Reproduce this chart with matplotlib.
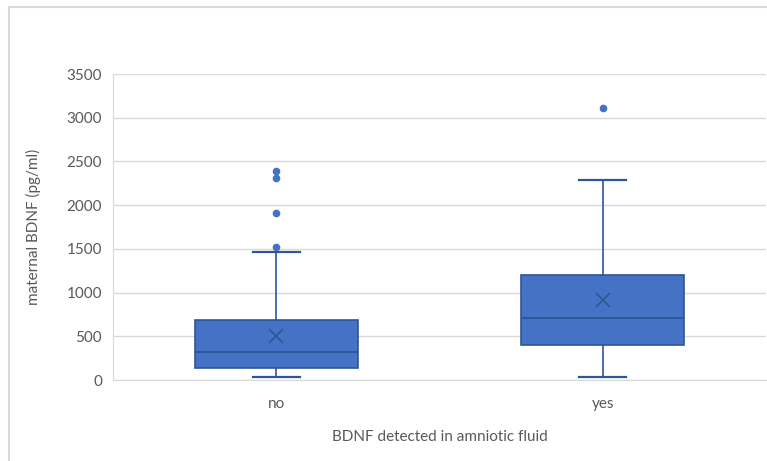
import matplotlib.pyplot as plt
from matplotlib.patches import Rectangle

# box statistics (pg/ml)
groups = ["no", "yes"]
q1 = [137, 400]
medians = [320, 710]
q3 = [686, 1200]
whisker_low = [30, 30]
whisker_high = [1465, 2290]
means = [503, 915]
outliers = [[1520, 1910, 2310, 2390], [3110]]

fill = "#4472C4"
edge = "#2F5597"
grey = "#595959"

plt.rcParams['font.family'] = ['Lato', 'DejaVu Sans']

fig = plt.figure(figsize=(7.67, 4.61), dpi=100)
ax = fig.add_axes([113 / 767, 1 - 380 / 461, 653 / 767, 306 / 461])

stats = []
for i, g in enumerate(groups):
    stats.append({"label": g, "q1": q1[i], "med": medians[i], "q3": q3[i],
                  "whislo": whisker_low[i], "whishi": whisker_high[i],
                  "mean": means[i], "fliers": outliers[i]})

ax.bxp(stats, positions=[1, 2], widths=0.5, patch_artist=True, showmeans=True,
       boxprops=dict(facecolor=fill, edgecolor=edge, linewidth=1.2),
       medianprops=dict(color=edge, linewidth=1.3),
       whiskerprops=dict(color=edge, linewidth=1.2),
       capprops=dict(color=edge, linewidth=1.6),
       capwidths=0.145,
       meanprops=dict(marker="x", markeredgecolor=edge, markersize=10, markeredgewidth=1.2),
       flierprops=dict(marker="o", markerfacecolor=fill, markeredgecolor=fill, markersize=4.5))

ax.set_xlim(0.5, 2.5)
ax.set_ylim(0, 3500)
ax.set_yticks(range(0, 3501, 500))
ax.yaxis.grid(True, color="#D9D9D9", linewidth=1)
ax.set_axisbelow(True)
for s in ["top", "right"]:
    ax.spines[s].set_visible(False)
for s in ["left", "bottom"]:
    ax.spines[s].set_color("#D9D9D9")
ax.tick_params(length=0, colors=grey, labelsize=11)
ax.tick_params(axis="x", pad=12)
ax.tick_params(axis="y", pad=8)
ax.set_xlabel("BDNF detected in amniotic fluid", color=grey, fontsize=11, labelpad=14)
ax.set_ylabel("maternal BDNF (pg/ml)", color=grey, fontsize=11, labelpad=18)

# outer chart frame
fig.patches.append(Rectangle((9 / 767, -0.1), 1, 1.1 - 7 / 461, transform=fig.transFigure,
                             fill=False, edgecolor="#D9D9D9", linewidth=1.5))

fig.savefig("out.png", dpi=100)
